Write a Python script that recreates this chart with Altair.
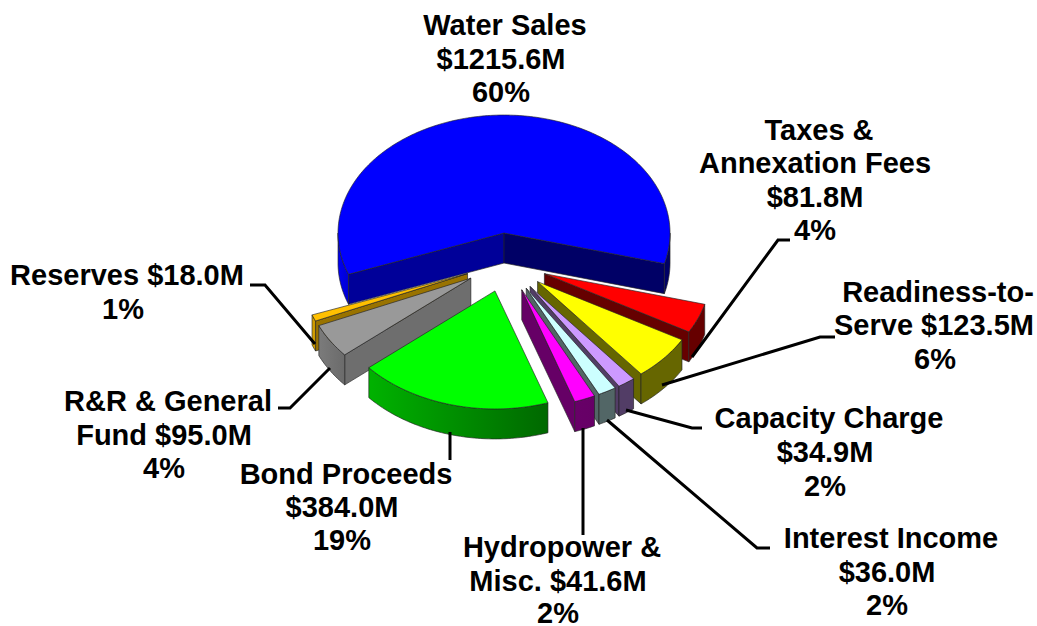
import math
import altair as alt
import pandas as pd

# Revenue sources, clockwise from the Water Sales wedge
names = ["Water Sales", "Taxes", "Readiness", "Capacity", "Interest",
         "Hydropower", "Bond", "Renewal", "Reserves"]
values = [1215.6, 81.8, 123.5, 34.9, 36.0, 41.6, 384.0, 95.0, 18.0]
percents = [60, 4, 6, 2, 2, 2, 19, 4, 1]
top_colors = ["#0000FF", "#FF0000", "#FFFF00", "#CC99FF", "#CCFFFF",
              "#FF00FF", "#00FF00", "#999999", "#FFC000"]
draw_order = [0, 8, 7, 1, 2, 3, 4, 5, 6]

# Pie geometry, in plot units
W, H = 1037, 626
CX, CY = 506, 262.5
RX, RY = 166, 118
DEPTH = 30
EXPLODE = 0.25
START = 249.5


def shade(color, k):
    rgb = [int(color[i:i + 2], 16) for i in (1, 3, 5)]
    return "#" + "".join(f"{int(round(c * k)):02x}" for c in rgb)


def rim_factor(deg):
    """Lighting of the outer wall: brighter towards the left of the pie."""
    d = deg % 360
    if d <= 160:
        return 0.40
    if d <= 230:
        return 0.40 + 0.30 * (d - 160) / 70
    return 0.70 + 0.25 * (min(d, 270) - 230) / 40


def point(apex, deg):
    t = math.radians(deg)
    return (apex[0] + RX * math.sin(t), apex[1] - RY * math.cos(t))


def polygon(points, fill, stroke="#222222", width=0.65):
    pts = points + points[:1]
    df = pd.DataFrame({"x": [p[0] for p in pts], "y": [p[1] for p in pts],
                       "i": range(len(pts))})
    return alt.Chart(df).mark_line(
        fill=fill, stroke=stroke, strokeWidth=width, strokeJoin="round"
    ).encode(x=X, y=Y, order="i:Q")


def wall(a, b):
    return a + [(x, y + DEPTH) for x, y in reversed(b)]


def arc(apex, a, b):
    n = max(2, int(abs(b - a)) + 1)
    return [point(apex, a + (b - a) * i / n) for i in range(n + 1)]


X = alt.X("x:Q", axis=None, scale=alt.Scale(domain=[0, W]))
Y = alt.Y("y:Q", axis=None, scale=alt.Scale(domain=[H, 0]))

total = sum(values)
spans = []
cursor = START
for v in values:
    spans.append((cursor, cursor + v / total * 360))
    cursor = spans[-1][1]

layers = []
for idx in draw_order:
    a, b = spans[idx]
    color = top_colors[idx]
    mid = math.radians((a + b) / 2)
    apex = (CX + EXPLODE * RX * math.sin(mid), CY - EXPLODE * RY * math.cos(mid))

    # Cut faces that turn towards the viewer
    if math.sin(math.radians(a)) < 0:
        k = 0.6 if idx in (0, 8) else 0.72
        edge = [apex, point(apex, a)]
        layers.append(polygon(wall(edge, edge), shade(color, k)))
    if math.sin(math.radians(b)) > 0:
        edge = [apex, point(apex, b)]
        layers.append(polygon(wall(edge, edge), shade(color, 0.4)))

    # Outer wall, only over the front half of the ellipse
    for lo, hi in ((90, 270), (450, 630)):
        s, e = max(a, lo), min(b, hi)
        if s < e:
            rim = arc(apex, s, e)
            stops = [
                {"color": shade(color, rim_factor(e)), "offset": 0},
                {"color": shade(color, rim_factor(s)), "offset": 1},
            ]
            fill = {"gradient": "linear", "x1": 0, "x2": 1, "y1": 0, "y2": 0,
                    "stops": stops}
            layers.append(polygon(wall(rim, rim), fill))

    # Top face
    layers.append(polygon([apex] + arc(apex, a, b), color))

# Leader lines from labels to wedges
leaders = [
    [(692, 357), (778, 240), (790, 240)],
    [(662, 385), (820, 337), (835, 337)],
    [(626, 410), (692, 428), (702, 428)],
    [(607, 420), (757, 548), (770, 548)],
    [(583, 428), (583, 535)],
    [(450, 432), (450, 460)],
    [(330, 368), (290, 408), (278, 408)],
    [(315, 344), (265, 285), (250, 285)],
]
for line in leaders:
    df = pd.DataFrame({"x": [p[0] for p in line], "y": [p[1] for p in line],
                       "i": range(len(line))})
    layers.append(alt.Chart(df).mark_line(
        stroke="black", strokeWidth=3, strokeJoin="miter"
    ).encode(x=X, y=Y, order="i:Q"))


def money(i):
    return f"${values[i]:.1f}M"


def pct(i):
    return f"{percents[i]}%"


labels = [
    ("Water Sales", 505, 35), (money(0), 501, 69), (pct(0), 501, 102),
    ("Taxes &", 819, 140), ("Annexation Fees", 815, 173),
    (money(1), 815, 207), (pct(1), 815, 240),
    ("Readiness-to-", 938, 302), (f"Serve {money(2)}", 934, 335), (pct(2), 935, 369),
    ("Capacity Charge", 829, 428), (money(3), 825, 462), (pct(3), 825, 496),
    ("Interest Income", 891, 548), (money(4), 887, 582), (pct(4), 887, 615),
    ("Hydropower &", 562, 557), (f"Misc. {money(5)}", 558, 591), (pct(5), 558, 623),
    ("Bond Proceeds", 346, 484), (money(6), 342, 517), (pct(6), 342, 550),
    ("R&R & General", 168, 411), (f"Fund {money(7)}", 164, 445), (pct(7), 164, 478),
    (f"Reserves {money(8)}", 127, 285), (pct(8), 123, 319),
]
label_df = pd.DataFrame(labels, columns=["text", "x", "y"])
layers.append(alt.Chart(label_df).mark_text(
    font="Liberation Sans", fontWeight="bold", fontSize=29, color="black",
    align="center", baseline="alphabetic"
).encode(x=X, y=Y, text="text:N"))

chart = alt.layer(*layers).properties(
    width=W, height=H, padding=0, background="white",
    autosize=alt.AutoSizeParams(type="none")
).configure_view(stroke=None)

chart.save("out.html", embed_options={"renderer": "svg", "actions": False})
